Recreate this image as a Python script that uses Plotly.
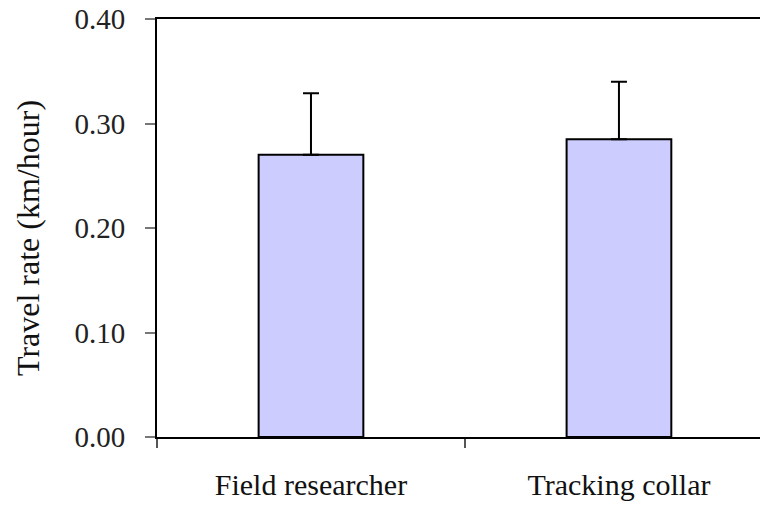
import plotly.graph_objects as go

categories = ["Field researcher", "Tracking collar"]
travel_rate = [0.27, 0.285]
error_plus = [0.059, 0.055]
y_ticks = [0.0, 0.1, 0.2, 0.3, 0.4]
y_tick_labels = ["0.00", "0.10", "0.20", "0.30", "0.40"]
y_title = "Travel rate (km/hour)"

font_family = "Liberation Serif"

fig = go.Figure()
fig.add_trace(go.Bar(
    x=categories,
    y=travel_rate,
    marker=dict(color="#CCCCFF", line=dict(color="black", width=2)),
    error_y=dict(type="data", array=error_plus, symmetric=False, arrayminus=[0, 0],
                 color="black", thickness=2, width=8),
    showlegend=False,
))

fig.update_layout(
    width=760, height=507,
    margin=dict(l=157, r=0, t=19, b=70),
    paper_bgcolor="white", plot_bgcolor="white",
    bargap=0.66,
    font=dict(family=font_family, size=30, color="black"),
    xaxis=dict(
        range=[-0.5, 1.458],
        showline=True, linecolor="black", linewidth=2, mirror=True,
        ticks="outside", tickson="boundaries", ticklen=9, tickcolor="#555", tickwidth=1.5,
        showgrid=False, zeroline=False,
        ticklabelstandoff=20,
        tickfont=dict(family=font_family, size=30, color="#111"),
    ),
    yaxis=dict(
        range=[0, 0.4],
        tickvals=y_ticks, ticktext=y_tick_labels,
        showline=True, linecolor="black", linewidth=2,
        ticks="outside", ticklen=10, tickcolor="#777", tickwidth=1.5,
        showgrid=False, zeroline=False,
        ticklabelstandoff=14,
        tickfont=dict(family=font_family, size=29, color="#222"),
    ),
    annotations=[dict(
        text=y_title, textangle=-90, showarrow=False,
        xref="paper", yref="paper", x=(28 - 157) / 603, y=(437 - 238) / 418,
        xanchor="center", yanchor="middle",
        font=dict(family=font_family, size=32, color="#111"),
    )],
)

fig.write_html("out.html")
